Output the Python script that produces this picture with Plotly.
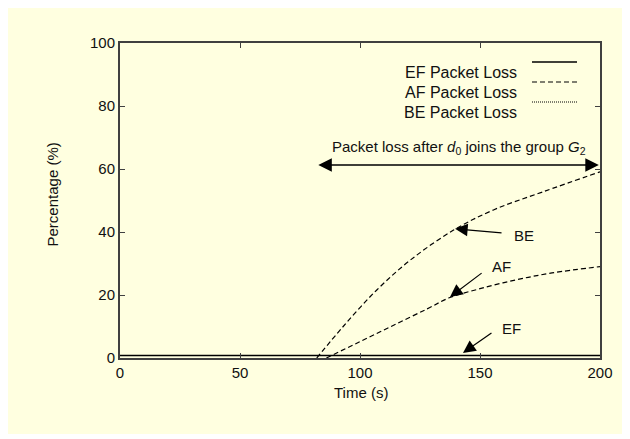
import plotly.graph_objects as go

# ---- data ----
ef_time = [0, 50, 100, 150, 200]
ef_loss = [0.8, 0.8, 0.8, 0.8, 0.8]

af_time = [86, 100, 114, 128, 137.5, 150, 165, 180, 200]
af_loss = [0, 5.2, 10.4, 15.6, 19.2, 22.0, 24.8, 27.0, 29.0]

be_time = [82, 93, 107, 121, 139, 155.6, 176.4, 200]
be_loss = [0, 10.0, 21.6, 31.1, 40.6, 47.0, 52.8, 59.1]

series_names = ["EF Packet Loss", "AF Packet Loss", "BE Packet Loss"]
x_ticks = [0, 50, 100, 150, 200]
y_ticks = [0, 20, 40, 60, 80, 100]

FONT = "Arial, Liberation Sans, sans-serif"
AXC = "#404040"
TXT = "#111"
DASH = "5px,3px"

fig = go.Figure()
fig.add_trace(go.Scatter(x=ef_time, y=ef_loss, mode="lines", name=series_names[0],
                         line=dict(color="black", width=1.5)))
fig.add_trace(go.Scatter(x=af_time, y=af_loss, mode="lines", name=series_names[1],
                         line=dict(color="black", width=1.2, dash=DASH, shape="spline")))
fig.add_trace(go.Scatter(x=be_time, y=be_loss, mode="lines", name=series_names[2],
                         line=dict(color="black", width=1.2, dash=DASH, shape="spline")))

axis_common = dict(showline=True, linecolor=AXC, linewidth=2, mirror="ticks",
                   ticks="inside", ticklen=5, tickcolor=AXC, tickwidth=1.2,
                   showgrid=False, zeroline=False,
                   tickfont=dict(family=FONT, size=15, color=TXT))

# the page body adds an 8px offset, margins compensate so the plot sits at 120..600 x 43..358
fig.update_layout(
    width=630, height=439,
    margin=dict(l=112, r=38, t=35, b=89),
    paper_bgcolor="white", plot_bgcolor="white",
    showlegend=False,
    font=dict(family=FONT, size=15, color=TXT),
    xaxis=dict(range=[0, 200], tickvals=x_ticks, **axis_common),
    yaxis=dict(range=[0, 100], tickvals=y_ticks, **axis_common),
)


def px_x(wx):
    return (wx - 120) / 480


def px_y(wy):
    return (358 - wy) / 315


# yellow background panel
fig.add_shape(type="rect", xref="paper", yref="paper", x0=px_x(3), x1=px_x(627),
              y0=px_y(434), y1=px_y(5), fillcolor="#FFFFE0", line=dict(width=0), layer="below")

# axis titles
fig.add_annotation(text="Time (s)", xref="paper", yref="paper", x=px_x(361),
                   y=px_y(403), showarrow=False, font=dict(size=15))
fig.add_annotation(text="Percentage (%)", xref="paper", yref="paper", x=px_x(42),
                   y=px_y(195), showarrow=False, textangle=-90, font=dict(size=15))

# custom legend (text on the left, line sample on the right)
leg_dash = ["solid", DASH, "1px,1px"]
leg_y = [62, 82, 102]
for name, d, py in zip(series_names, leg_dash, leg_y):
    yp = px_y(py)
    fig.add_annotation(text=name, xref="paper", yref="paper", x=px_x(519), y=yp,
                       xanchor="right", showarrow=False, font=dict(size=16))
    fig.add_shape(type="line", xref="paper", yref="paper", x0=px_x(532),
                  x1=px_x(577), y0=yp, y1=yp,
                  line=dict(color="black", width=1.5 if d == "solid" else 1.2, dash=d))

# double-headed arrow and its text
fig.add_annotation(x=199.5, y=61.3, ax=82, ay=61.3, axref="x", ayref="y", text="",
                   showarrow=True, arrowhead=2, startarrowhead=2, arrowside="end+start",
                   arrowsize=1.8, startarrowsize=1.8, arrowwidth=1.5, arrowcolor="black")
fig.add_annotation(x=141.2, y=66.9, showarrow=False,
                   text="Packet loss after <i>d</i><sub>0</sub> joins the group <i>G</i><sub>2</sub>",
                   font=dict(size=15))

# pointer arrows
pointers = [("BE", 139.6, 41.0, 159.6, 39.7, 168.3, 39.0),
            ("AF", 137.5, 19.4, 151.3, 27.3, 159.0, 29.2),
            ("EF", 142.9, 1.6, 155.4, 8.3, 163.3, 9.5)]
for lab, tx, ty, axx, ayy, lx, ly in pointers:
    fig.add_annotation(x=tx, y=ty, ax=axx, ay=ayy, axref="x", ayref="y", text="",
                       showarrow=True, arrowhead=2, arrowsize=2.1, arrowwidth=1.2,
                       arrowcolor="black")
    fig.add_annotation(x=lx, y=ly, text=lab, showarrow=False, font=dict(size=15))

fig.write_html("out.html")
